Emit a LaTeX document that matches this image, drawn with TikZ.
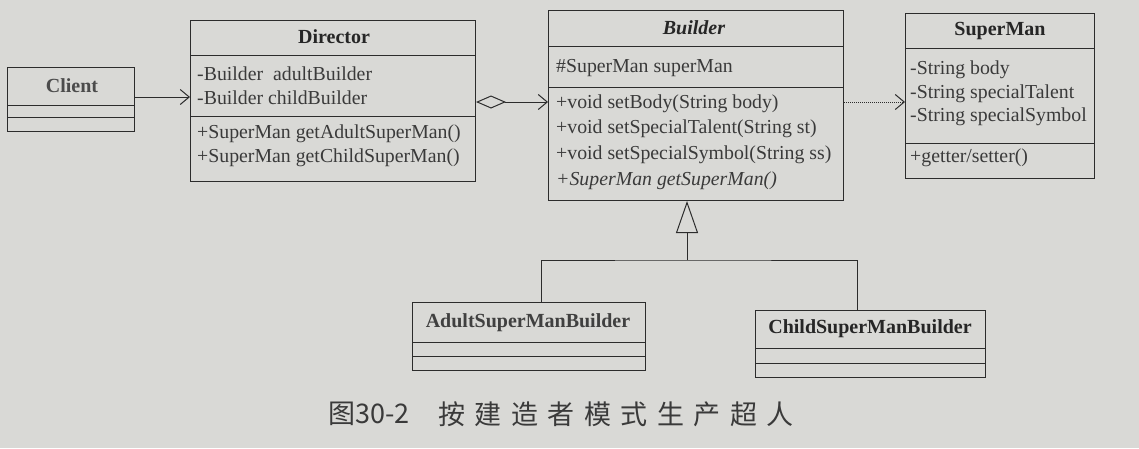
\documentclass[tikz,border=0pt]{standalone}
\usepackage{fontspec}
\setmainfont{Liberation Serif}
\newfontfamily\cjk{Noto Sans CJK SC}
\usetikzlibrary{arrows.meta}
\definecolor{bgcol}{HTML}{D9D9D6}
\definecolor{txtcol}{HTML}{3A3A3A}
\definecolor{linecol}{HTML}{2C2C2C}
\begin{document}
\begin{tikzpicture}[x=1pt,y=-1pt,
  cls/.style={draw=linecol, line width=1pt, anchor=north west, inner sep=0},
  ttl/.style={font=\fontsize{20}{22}\selectfont\bfseries, text=black!85, inner sep=0},
  mem/.style={font=\fontsize{19.8}{22}\selectfont, text=txtcol, anchor=west, inner sep=0},
  conn/.style={draw=linecol, line width=1pt},
  barb/.style={-{Straight Barb[length=9pt,width=15pt,line width=1pt]}}]
\fill[bgcol] (0,0) rectangle (1139,448);
\useasboundingbox (0,0) rectangle (1139,448);
% Client
\node[cls, minimum width=127pt, minimum height=64pt] (client) at (7,67) {};
\draw[conn] (client.west |- 0,105) -- (client.east |- 0,105);
\draw[conn] (client.west |- 0,117) -- (client.east |- 0,117);
\node[ttl, text=black!70] (clientname) at (72,86) {Client};
% Director
\node[cls, minimum width=285pt, minimum height=161pt] (director) at (190,20) {};
\draw[conn] (director.west |- 0,55) -- (director.east |- 0,55);
\draw[conn] (director.west |- 0,116) -- (director.east |- 0,116);
\node[ttl] (dirname) at (334,37) {Director};
\node[mem] (d1) at (197,74) {-Builder\ \ adultBuilder};
\node[mem] (d2) at (197,98) {-Builder childBuilder};
\node[mem] (d3) at (197,134) {+SuperMan getAdultSuperMan()};
\node[mem] (d4) at (197,158) {+SuperMan getChildSuperMan()};
% Builder
\node[cls, minimum width=295pt, minimum height=190pt] (builder) at (548,10) {};
\draw[conn] (builder.west |- 0,46) -- (builder.east |- 0,46);
\draw[conn] (builder.west |- 0,87) -- (builder.east |- 0,87);
\node[ttl, font=\fontsize{20}{22}\selectfont\bfseries\itshape] (buildername) at (694,28) {Builder};
\node[mem] (b0) at (556,68) {\#SuperMan superMan};
\node[mem] (b1) at (556,104) {+void setBody(String body)};
\node[mem] (b2) at (556,129) {+void setSpecialTalent(String st)};
\node[mem] (b3) at (556,155) {+void setSpecialSymbol(String ss)};
\node[mem, font=\fontsize{19.8}{22}\selectfont\itshape] (b4) at (556,181) {+SuperMan getSuperMan()};
% SuperMan
\node[cls, minimum width=189pt, minimum height=165pt] (superman) at (905,13) {};
\draw[conn] (superman.west |- 0,48) -- (superman.east |- 0,48);
\draw[conn] (superman.west |- 0,143) -- (superman.east |- 0,143);
\node[ttl] (smname) at (1000,31) {SuperMan};
\node[mem] (s1) at (910,70) {-String body};
\node[mem] (s2) at (910,94) {-String specialTalent};
\node[mem] (s3) at (910,117) {-String specialSymbol};
\node[mem] (s4) at (910,158) {+getter/setter()};
% AdultSuperManBuilder
\node[cls, minimum width=233pt, minimum height=68pt] (adult) at (412,302) {};
\draw[conn] (adult.west |- 0,342) -- (adult.east |- 0,342);
\draw[conn] (adult.west |- 0,356) -- (adult.east |- 0,356);
\node[ttl, text=black!75] (adultname) at (528,323) {AdultSuperManBuilder};
% ChildSuperManBuilder
\node[cls, minimum width=230pt, minimum height=67pt] (child) at (755,310) {};
\draw[conn] (child.west |- 0,348) -- (child.east |- 0,348);
\draw[conn] (child.west |- 0,363) -- (child.east |- 0,363);
\node[ttl] (childname) at (870,329) {ChildSuperManBuilder};
% connectors
\draw[conn, barb] (client.east |- 0,97) -- (director.west |- 0,97);
\draw[conn, {Diamond[open,length=30pt,width=13pt,line width=1pt]}-{Straight Barb[length=9pt,width=15pt,line width=1pt]}]
  (director.east |- 0,102) -- (builder.west |- 0,102);
\draw[conn, densely dotted, barb] (builder.east |- 0,102) -- (superman.west |- 0,102);
\coordinate (junc) at (687,260);
\draw[conn, -{Triangle[open,length=32pt,width=22pt,line width=1pt]}] (junc) -- (builder.south -| junc);
\draw[conn] (adult.north -| 541,0) |- (junc) -| (child.north -| 857,0);
% caption
\node[font=\cjk\fontsize{27}{30}\selectfont, text=txtcol, anchor=west, inner sep=0] (figno) at (328,414) {图30-2};
\node[font=\cjk\fontsize{27}{30}\selectfont, text=txtcol, anchor=west, inner sep=0] (figtitle) at (438,414)
  {按\hspace{9.5pt}建\hspace{9.5pt}造\hspace{9.5pt}者\hspace{9.5pt}模\hspace{9.5pt}式\hspace{9.5pt}生\hspace{9.5pt}产\hspace{9.5pt}超\hspace{9.5pt}人};
\end{tikzpicture}
\end{document}
